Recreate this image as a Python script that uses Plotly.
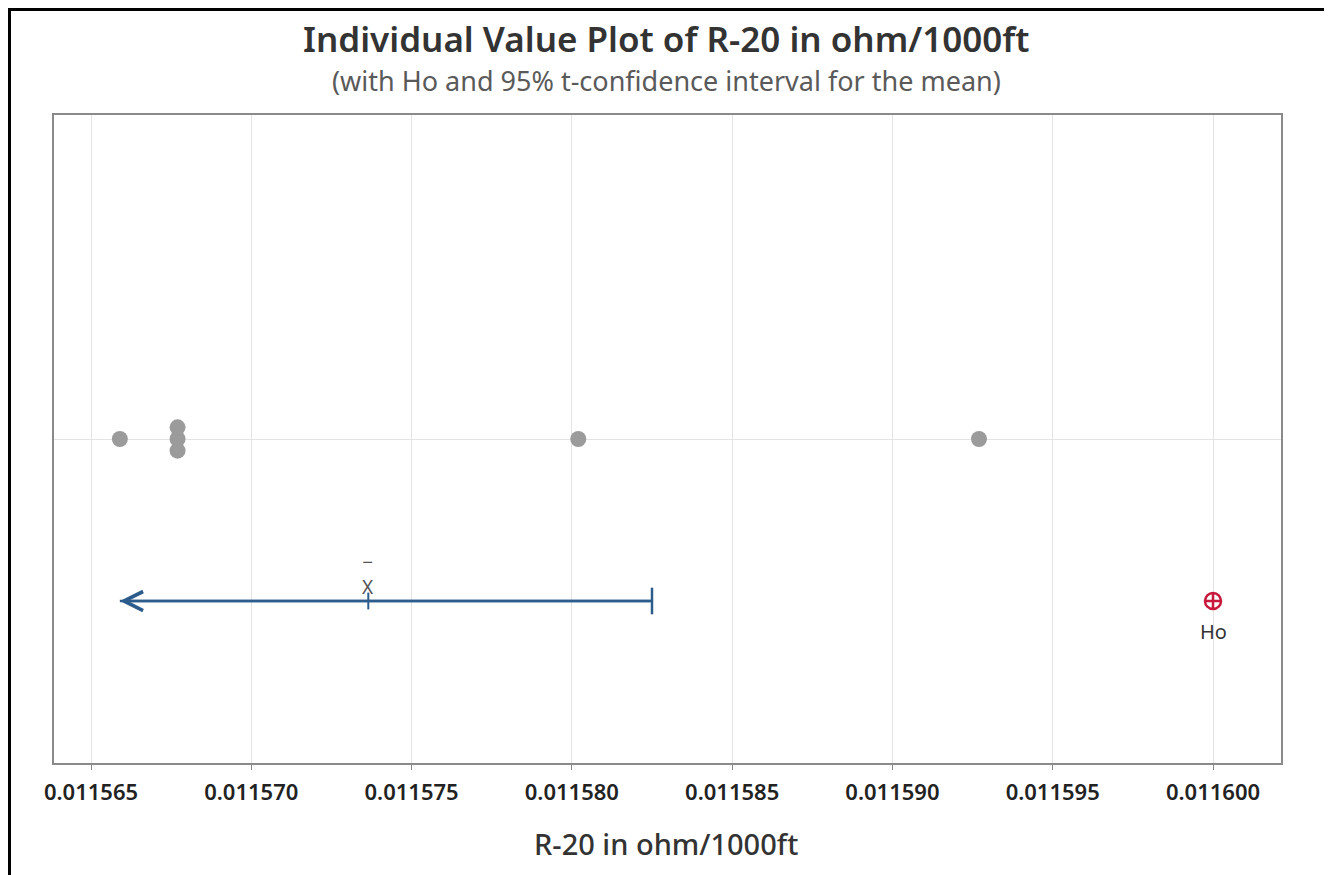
import plotly.graph_objects as go
from collections import Counter

# ---------------- data ----------------
values = [0.0115659, 0.0115677, 0.0115677, 0.0115677, 0.0115802, 0.0115927]
ci_upper = 0.0115825          # 95% upper bound for the mean
h0 = 0.0116                   # hypothesised mean
tick_vals = [0.011565, 0.011570, 0.011575, 0.011580, 0.011585, 0.011590, 0.011595, 0.011600]
tick_text = ["0.011565", "0.011570", "0.011575", "0.011580", "0.011585", "0.011590", "0.011595", "0.011600"]
title = "Individual Value Plot of R-20 in ohm/1000ft"
subtitle = "(with Ho and 95% t-confidence interval for the mean)"
x_title = "R-20 in ohm/1000ft"

mean_val = sum(values) / len(values)
ci_lower_draw = min(values)   # one-sided interval: arrow drawn to the data minimum

# ---------------- layout constants ----------------
# the page body has an 8px margin, so the figure starts at page (8, 8)
OFF = 8
W, H = 1332 - OFF, 875 - OFF
L, R, T, B = 54 - OFF, 51, 115 - OFF, 112
plot_h = H - T - B
plot_w = W - L - R
ROW_DOTS = 0.5
ROW_CI = 0.25
STACK = 0.018

def py(px):   # page pixel (from top) -> paper y
    return (H - B - (px - OFF)) / plot_h

def px_x(px):  # page pixel (from left) -> paper x
    return (px - OFF - L) / plot_w

# stacked dot positions
counts = Counter(values)
seen = Counter()
dot_y = []
for v in values:
    n = counts[v]
    k = seen[v]
    seen[v] += 1
    dot_y.append(ROW_DOTS + (k - (n - 1) / 2) * STACK)

BLUE = "#2c5c8c"
GRAY_DOT = "#9b9b9b"
RED = "#c8183c"
FONT = "Noto Sans"

fig = go.Figure()

fig.add_trace(go.Scatter(
    x=values, y=dot_y, mode="markers",
    marker=dict(size=16, color=GRAY_DOT, line=dict(width=0)),
    hoverinfo="x", showlegend=False))

# CI line
fig.add_trace(go.Scatter(
    x=[ci_lower_draw, ci_upper], y=[ROW_CI, ROW_CI], mode="lines",
    line=dict(color=BLUE, width=2.5), hoverinfo="skip", showlegend=False))

# end cap at upper bound
fig.add_trace(go.Scatter(
    x=[ci_upper], y=[ROW_CI], mode="markers",
    marker=dict(symbol="line-ns", size=19, line=dict(color=BLUE, width=2.5)),
    hoverinfo="x", showlegend=False))

# mean tick
fig.add_trace(go.Scatter(
    x=[mean_val], y=[ROW_CI], mode="markers",
    marker=dict(symbol="line-ns", size=12, line=dict(color=BLUE, width=2)),
    hoverinfo="x", showlegend=False))

# Ho marker
fig.add_trace(go.Scatter(
    x=[h0], y=[ROW_CI], mode="markers",
    marker=dict(symbol="circle-cross-open", size=16, color=RED, line=dict(color=RED, width=2.5)),
    hoverinfo="x", showlegend=False))

annotations = [
    # arrow head on the left end
    dict(x=ci_lower_draw, y=ROW_CI, ax=ci_upper, ay=ROW_CI, xref="x", yref="y",
         axref="x", ayref="y", text="", showarrow=True, arrowhead=5,
         arrowsize=1.5, arrowwidth=2.5, arrowcolor=BLUE),
    # x-bar label (bar on its own line above the X)
    dict(x=mean_val, y=py(574), xref="x", yref="paper", text="\u2212<br>X", showarrow=False,
         font=dict(family=FONT, size=19, color="#555555"), xanchor="center", yanchor="middle"),
    # Ho label
    dict(x=h0, y=py(631), xref="x", yref="paper", text="Ho", showarrow=False,
         font=dict(family=FONT, size=20, color="#333333"), xanchor="center", yanchor="middle"),
    # titles
    dict(x=px_x(666), y=py(38), xref="paper", yref="paper", text=title, showarrow=False,
         font=dict(family=FONT, size=35, color="#333333", weight=600),
         xanchor="center", yanchor="middle"),
    dict(x=px_x(666), y=py(80), xref="paper", yref="paper", text=subtitle, showarrow=False,
         font=dict(family=FONT, size=27, color="#5a5a5a"),
         xanchor="center", yanchor="middle"),
    dict(x=px_x(666), y=py(843), xref="paper", yref="paper", text=x_title, showarrow=False,
         font=dict(family=FONT, size=29, color="#333333", weight=500),
         xanchor="center", yanchor="middle"),
]

shapes = [
    # outer black border (bottom edge falls off the page)
    dict(type="rect", xref="paper", yref="paper",
         x0=px_x(9.5), x1=px_x(1326), y0=py(900), y1=py(9.5),
         line=dict(color="black", width=3), fillcolor="rgba(0,0,0,0)", layer="above"),
]

x_lo = 0.011565 - 37 / 32.057e6
x_hi = 0.011600 + 68 / 32.057e6

fig.update_layout(
    width=W, height=H,
    margin=dict(l=L, r=R, t=T, b=B, pad=0, autoexpand=False),
    paper_bgcolor="white", plot_bgcolor="white",
    showlegend=False,
    annotations=annotations,
    shapes=shapes,
    font=dict(family=FONT, color="#222222"),
    xaxis=dict(
        range=[x_lo, x_hi], tickvals=tick_vals, ticktext=tick_text,
        showgrid=True, gridcolor="#e3e3e3", gridwidth=1,
        showline=True, linecolor="#8a8a8a", linewidth=2, mirror=True,
        ticks="outside", ticklen=5, tickcolor="#8a8a8a", tickwidth=1,
        tickfont=dict(family=FONT, size=22, color="#222222", weight=600),
        ticklabelstandoff=4,
        zeroline=False, automargin=False,
    ),
    yaxis=dict(
        range=[0, 1], tickvals=[ROW_DOTS], ticktext=[""],
        showgrid=True, gridcolor="#e3e3e3", gridwidth=1,
        showline=True, linecolor="#8a8a8a", linewidth=2, mirror=True,
        ticks="", showticklabels=False, zeroline=False, automargin=False,
    ),
)

fig.write_html("out.html")
